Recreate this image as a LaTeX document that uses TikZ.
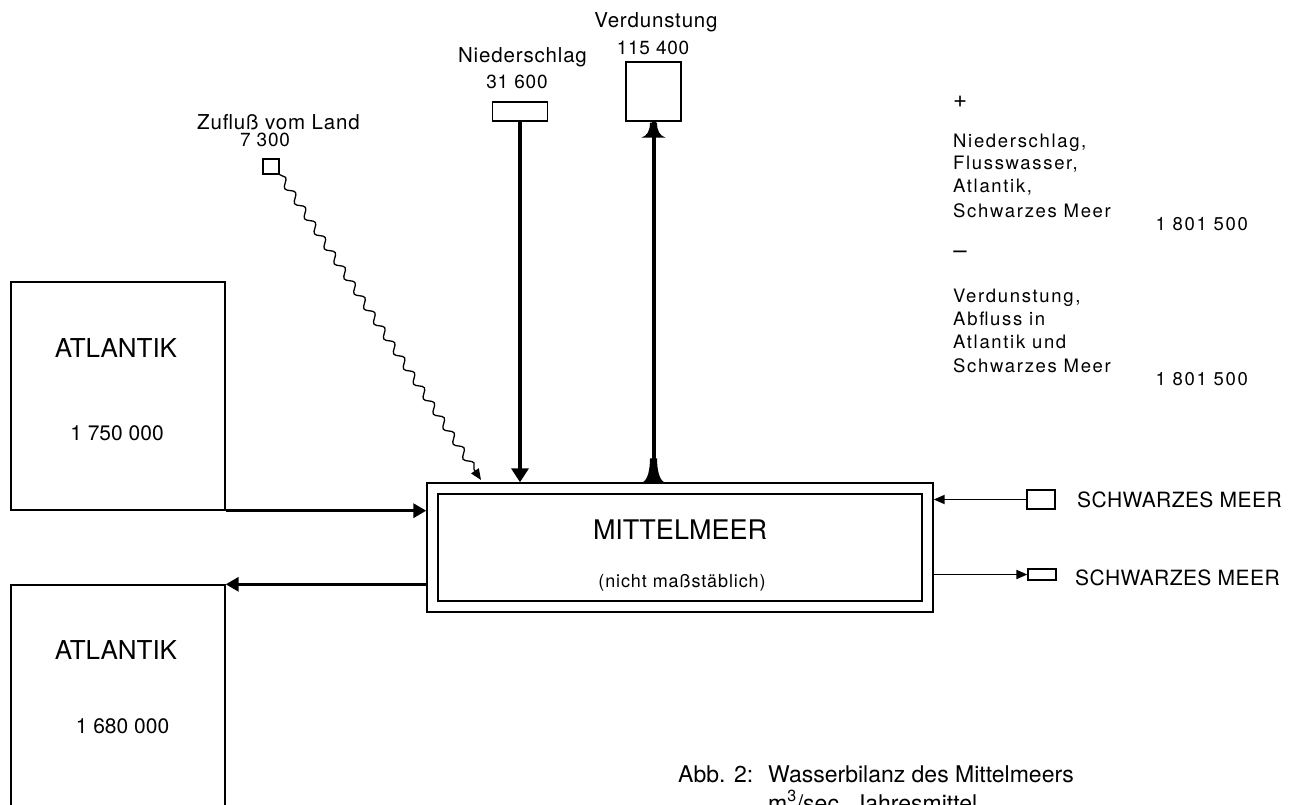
\documentclass[tikz,border=0pt]{standalone}
\usepackage{fontspec}
\setmainfont{TeX Gyre Heros}
\newfontfamily\trackA[LetterSpace=4]{TeX Gyre Heros}
\newfontfamily\trackB[LetterSpace=9]{TeX Gyre Heros}
\newfontfamily\trackC[LetterSpace=2]{TeX Gyre Heros}
\newfontfamily\trackD[LetterSpace=5]{TeX Gyre Heros}
\usetikzlibrary{arrows.meta,decorations.pathmorphing,calc}
\begin{document}
\begin{tikzpicture}[x=1pt,y=-1pt,
  box/.style={draw, line width=1.4pt, inner sep=0pt},
  sbox/.style={draw, line width=1.2pt, inner sep=0pt},
  thickarrow/.style={line width=3.5pt, -{Triangle[length=13pt,width=14pt]}},
  vertarrow/.style={line width=4pt, -{Triangle[length=14pt,width=17pt]}},
  thinarrow/.style={line width=1.8pt, -{Triangle[length=11pt,width=9pt]}},
  wavy/.style={line width=1.3pt, decorate,
     decoration={snake, amplitude=3.5pt, segment length=18pt, post length=10pt},
     -{Triangle[length=11pt,width=9pt]}},
  lab/.style={inner sep=0pt, anchor=base, font=\trackA\fontsize{20.5}{24}\selectfont},
  num/.style={inner sep=0pt, anchor=base, font=\trackA\fontsize{19}{23}\selectfont},
  rtxt/.style={inner sep=0pt, anchor=base west, font=\trackB\fontsize{18.5}{22}\selectfont},
  big/.style={inner sep=0pt, anchor=base, font=\fontsize{26}{30}\selectfont},
  atlnum/.style={inner sep=0pt, anchor=base, font=\fontsize{21}{25}\selectfont},
  smtxt/.style={inner sep=0pt, anchor=base west, font=\trackC\fontsize{21}{25}\selectfont},
  captxt/.style={inner sep=0pt, anchor=base west, font=\fontsize{23}{27}\selectfont},
  sign/.style={inner sep=0pt, font=\fontsize{24}{28}\selectfont}
]
\useasboundingbox (0,0) rectangle (1295,805);

% Atlantik boxes
\node[box, minimum width=214pt, minimum height=228pt] (atl1) at (118,396) {};
\node[big] (atl1t) at (116,357) {ATLANTIK};
\node[atlnum] (atl1n) at (117,440) {1 750 000};
\node[box, minimum width=214pt, minimum height=240pt] (atl2) at (118,705) {};
\node[big] (atl2t) at (116,659) {ATLANTIK};
\node[atlnum] (atl2n) at (122.5,733) {1 680 000};

% Mittelmeer
\node[box, minimum width=506pt, minimum height=129pt] (mm) at (680,547.5) {};
\node[box, minimum width=484pt, minimum height=107pt] (mmi) at (680,547.5) {};
\node[inner sep=0pt, anchor=base, font=\fontsize{27}{31}\selectfont] (mmt) at (680,539) {MITTELMEER};
\node[inner sep=0pt, anchor=base, font=\trackD\fontsize{18}{22}\selectfont] (mms) at (682,587) {(nicht maßstäblich)};

% Niederschlag
\node[sbox, minimum width=55pt, minimum height=19pt] (nied) at (520,111.5) {};
\node[lab] (niedt) at (522.5,63) {Niederschlag};
\node[num] (niedn) at (517,89) {31 600};
\draw[vertarrow] (nied.south) -- (nied.south |- mm.north);

% Verdunstung
\node[sbox, minimum width=55pt, minimum height=59pt] (verd) at (653.5,91.5) {};
\node[lab] (verdt) at (656,28) {Verdunstung};
\node[num] (verdn) at (653,55) {115 400};
\coordinate (vb) at (verd.south |- mm.north);
\draw[line width=4pt] (vb) -- (verd.south);
\fill (vb) ++(-11,0) .. controls +(5,-2) and +(0,12) .. ++(7.5,-24) -- ++(7,0) .. controls +(0,12) and +(-5,-2) .. ++(7.5,24) -- cycle;
\fill (verd.south) ++(-12,16) .. controls +(6,-2) and +(0,8) .. ++(8.5,-15) -- ++(7,0) .. controls +(0,8) and +(-6,-2) .. ++(8.5,15) -- cycle;

% Zufluss vom Land
\node[sbox, minimum width=16pt, minimum height=15pt] (zu) at (271,166.5) {};
\node[lab] (zut) at (278.5,130) {Zufluß vom Land};
\node[num] (zun) at (265,147) {7 300};
\coordinate (zuend) at (481,480);
\draw[wavy] (zu.south east) -- (zuend);

% Atlantik flows
\draw[thickarrow] (atl1.south east) -- (atl1.south east -| mm.west);
\draw[thickarrow] (atl2.north east -| mm.west) -- (atl2.north east);

% Schwarzes Meer
\node[sbox, minimum width=28pt, minimum height=19pt] (smt) at (1041,499.5) {};
\node[sbox, minimum width=28pt, minimum height=11pt] (smb) at (1042,574.5) {};
\node[smtxt] (smtt) at (1077,507) {SCHWARZES MEER};
\node[smtxt] (smbt) at (1075,585) {SCHWARZES MEER};
\draw[thinarrow] (smt.west) -- (smt.west -| mm.east);
\draw[thinarrow] (smb.west -| mm.east) -- (smb.west);

% Balance text
\node[sign] (plus) at (960,102) {+};
\node[rtxt] (r1) at (953,148) {Niederschlag,};
\node[rtxt] (r2) at (953,170) {Flusswasser,};
\node[rtxt] (r3) at (953,193) {Atlantik,};
\node[rtxt] (r4) at (953,217) {Schwarzes Meer};
\node[rtxt, anchor=base east] (r5) at (1248,230) {1 801 500};
\node[sign] (minus) at (960,255) {--};
\node[rtxt] (r6) at (953,302) {Verdunstung,};
\node[rtxt] (r7) at (953,325) {Abfluss in};
\node[rtxt] (r8) at (953,348) {Atlantik und};
\node[rtxt] (r9) at (953,372) {Schwarzes Meer};
\node[rtxt, anchor=base east] (r10) at (1248,385) {1 801 500};

% Caption
\node[captxt] (c1) at (678,782) {Abb. 2:};
\node[captxt] (c2) at (768,782) {Wasserbilanz des Mittelmeers};
\node[captxt] (c3) at (768,811) {m\textsuperscript{3}/sec. Jahresmittel};
\end{tikzpicture}
\end{document}
